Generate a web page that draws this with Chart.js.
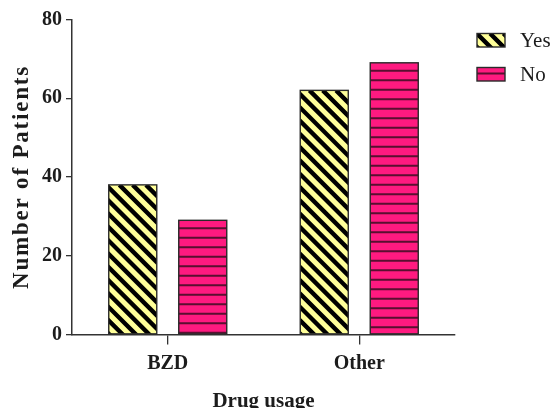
<!DOCTYPE html>
<html>
<head>
<meta charset="utf-8">
<script src="https://cdn.jsdelivr.net/npm/chart.js@4.4.1/dist/chart.umd.min.js"></script>
<style>
  html, body { margin: 0; padding: 0; background: #ffffff; }
  #wrap { width: 558px; height: 408px; }
</style>
</head>
<body>
<div id="wrap"><canvas id="chart" width="558" height="408"></canvas></div>
<script>
// Patients per drug-usage group
const categories = ['BZD', 'Other'];
const yesValues = [38, 62];
const noValues = [29, 69];
const seriesLabels = ['Yes', 'No'];
const yTicks = [0, 20, 40, 60, 80];

const SERIF = '"Liberation Serif", "Times New Roman", serif';
const INK = '#1c1c1c';
const YELLOW = '#FFFF99';
const PINK = '#FF1A80';
const PINK_LINE = '#5a0f30';

// Hatch painters: diagonal "\" stripes and horizontal rules, clipped to a box
function paintDiagonal(ctx, left, top, w, h) {
  const p = 13.3;
  ctx.fillStyle = YELLOW;
  ctx.fillRect(left, top, w, h);
  ctx.strokeStyle = '#000000';
  ctx.lineWidth = 4.4;
  ctx.beginPath();
  for (let x0 = left - h - p; x0 < left + w + p; x0 += p) {
    ctx.moveTo(x0, top);
    ctx.lineTo(x0 + h + 2, top + h + 2);
  }
  ctx.stroke();
}
function paintRules(ctx, left, top, w, h, first) {
  const p = 9.5;
  ctx.fillStyle = PINK;
  ctx.fillRect(left, top, w, h);
  ctx.strokeStyle = PINK_LINE;
  ctx.lineWidth = 2;
  ctx.beginPath();
  for (let y = top + first; y < top + h - 1; y += p) {
    ctx.moveTo(left, y);
    ctx.lineTo(left + w, y);
  }
  ctx.stroke();
}
function paintBox(ctx, kind, left, top, w, h, first) {
  ctx.save();
  ctx.beginPath();
  ctx.rect(left, top, w, h);
  ctx.clip();
  if (kind === 0) paintDiagonal(ctx, left, top, w, h);
  else paintRules(ctx, left, top, w, h, first);
  ctx.restore();
  ctx.strokeStyle = '#2a2a2a';
  ctx.lineWidth = 1.4;
  ctx.strokeRect(left, top, w, h);
}

const hatchBars = {
  id: 'hatchBars',
  afterDatasetsDraw(chart) {
    const ctx = chart.ctx;
    chart.data.datasets.forEach((ds, i) => {
      const meta = chart.getDatasetMeta(i);
      meta.data.forEach(bar => {
        const left = bar.x - bar.width / 2;
        const top = Math.min(bar.y, bar.base);
        const h = Math.abs(bar.base - bar.y);
        paintBox(ctx, i, left, top, bar.width, h, 8);
      });
    });
  }
};

// Legend at the upper right, plus the spaced-out vertical axis title
const sideText = {
  id: 'sideText',
  afterDraw(chart) {
    const ctx = chart.ctx;
    const area = chart.chartArea;
    ctx.save();
    ctx.font = '21px ' + SERIF;
    ctx.fillStyle = INK;
    ctx.textBaseline = 'middle';
    ctx.textAlign = 'left';
    seriesLabels.forEach((lab, i) => {
      const by = 33.5 + i * 34;
      paintBox(ctx, i, 477, by, 28, 13.5, 6);
      ctx.fillText(lab, 520, by + 7.5);
    });
    ctx.restore();

    ctx.save();
    ctx.translate(22, (area.top + area.bottom) / 2);
    ctx.rotate(-Math.PI / 2);
    ctx.font = 'bold 23px ' + SERIF;
    ctx.letterSpacing = '1.8px';
    ctx.fillStyle = INK;
    ctx.textAlign = 'center';
    ctx.textBaseline = 'middle';
    ctx.fillText('Number of Patients', 0, 0);
    ctx.restore();
  }
};

new Chart(document.getElementById('chart'), {
  type: 'bar',
  data: {
    labels: categories,
    datasets: [
      { label: seriesLabels[0], data: yesValues, backgroundColor: YELLOW, borderWidth: 0,
        categoryPercentage: 0.731, barPercentage: 0.686 },
      { label: seriesLabels[1], data: noValues, backgroundColor: PINK, borderWidth: 0,
        categoryPercentage: 0.731, barPercentage: 0.686 }
    ]
  },
  options: {
    responsive: false,
    animation: false,
    devicePixelRatio: 1,
    layout: { padding: { left: 0, right: 103, top: 19.5, bottom: 0 } },
    plugins: { legend: { display: false }, tooltip: { enabled: false } },
    scales: {
      x: {
        offset: true,
        grid: { display: true, drawOnChartArea: false, drawTicks: true, tickLength: 10,
                color: '#333333', lineWidth: 1.3, offset: false },
        border: { display: true, color: '#333333', width: 1.5 },
        ticks: { color: INK, font: { family: SERIF, size: 20, weight: 'bold' }, padding: 7 },
        title: { display: true, text: 'Drug usage', color: INK,
                 font: { family: SERIF, size: 21, weight: 'bold', lineHeight: 1.0 },
                 padding: { top: 4, bottom: -4 } },
        afterFit(scale) { scale.height = 73.5; }
      },
      y: {
        min: 0,
        max: 80,
        afterBuildTicks(scale) { scale.ticks = yTicks.map(v => ({ value: v })); },
        grid: { display: true, drawOnChartArea: false, drawTicks: true, tickLength: 6,
                color: '#333333', lineWidth: 1.3 },
        border: { display: true, color: '#333333', width: 1.5 },
        ticks: { color: INK, font: { family: SERIF, size: 20, weight: 'bold' }, padding: 4 },
        afterFit(scale) { scale.width = 72; }
      }
    }
  },
  plugins: [hatchBars, sideText]
});
</script>
</body>
</html>
